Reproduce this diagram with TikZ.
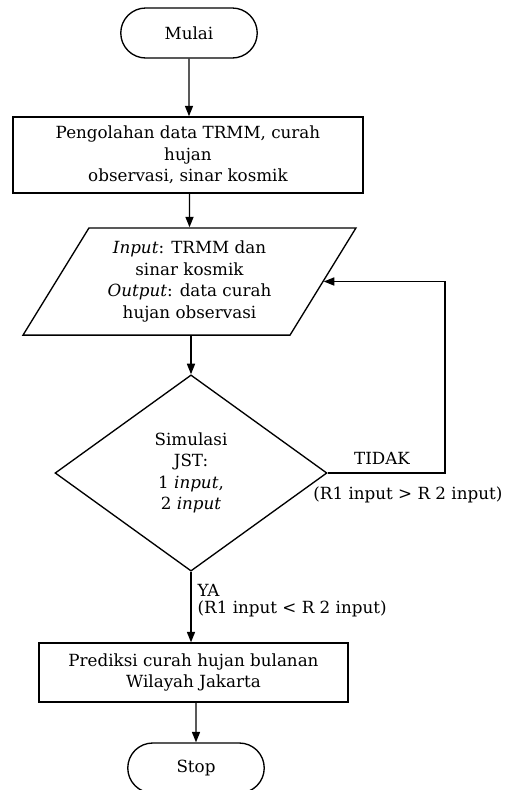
\documentclass[tikz,border=0pt]{standalone}
\usepackage{fontspec}
\setmainfont{DejaVu Serif}
\usetikzlibrary{shapes.geometric,shapes.misc,arrows.meta}

\tikzset{
  terminal/.style={draw, rounded rectangle, minimum width=3.1cm, minimum height=1.05cm},
  process/.style={draw, rectangle, align=center},
  io/.style={draw, trapezium, trapezium left angle=58, trapezium right angle=122,
    trapezium stretches=true, align=center},
  decision/.style={draw, diamond, align=center, inner sep=0pt},
  flow/.style={-{Triangle[length=2.2mm,width=1.7mm]}}
}

\begin{document}
\begin{tikzpicture} [x=0.021cm, y=-0.021cm, line width=0.8pt, font=\fontsize{10}{12.8}\selectfont]

\useasboundingbox (0,0) rectangle (504,790);

\node [terminal] (mulai) at (189,33) {Mulai};
\node [process, minimum width=7.35cm, minimum height=1.6cm] (olah) at (188,155)
  {Pengolahan data TRMM, curah\\hujan\\observasi, sinar kosmik};
\node [io, minimum width=7cm, minimum height=2.25cm] (inout) at (189.5,281.5)
  {\textit{Input}: TRMM dan\\sinar kosmik\\\textit{Output}: data curah\\hujan observasi};
\node [decision, minimum width=5.71cm, minimum height=4.12cm] (jst) at (191,473)
  {Simulasi\\JST:\\1 \textit{input},\\2 \textit{input}};
\node [process, minimum width=6.49cm, minimum height=1.24cm] (prediksi) at (193.5,672.5)
  {Prediksi curah hujan bulanan\\Wilayah Jakarta};
\node [terminal] (stop) at (196,768) {Stop};

\coordinate (pojok) at (445,473);

\draw [flow] (mulai) -- (mulai |- olah.north);
\draw [flow] (olah.south -| inout) -- (inout);
\draw [flow] (inout.south -| jst) -- (jst);
\draw [flow] (jst) -- (jst |- prediksi.north);
\draw [flow] (prediksi.south -| stop) -- (stop);
\draw [flow] (jst.east) -- (pojok) |- (inout.east);

% keterangan cabang
\node [anchor=south] (tidak) at (382,471) {TIDAK};
\node [anchor=east, inner sep=0pt] (syarat1) at (503,495) {(R1 input > R 2 input)};
\node [anchor=west, inner sep=0pt] (ya) at (197,590) {YA};
\node [anchor=west, inner sep=0pt] (syarat2) at (197,609) {(R1 input < R 2 input)};

\end{tikzpicture}
\end{document}
